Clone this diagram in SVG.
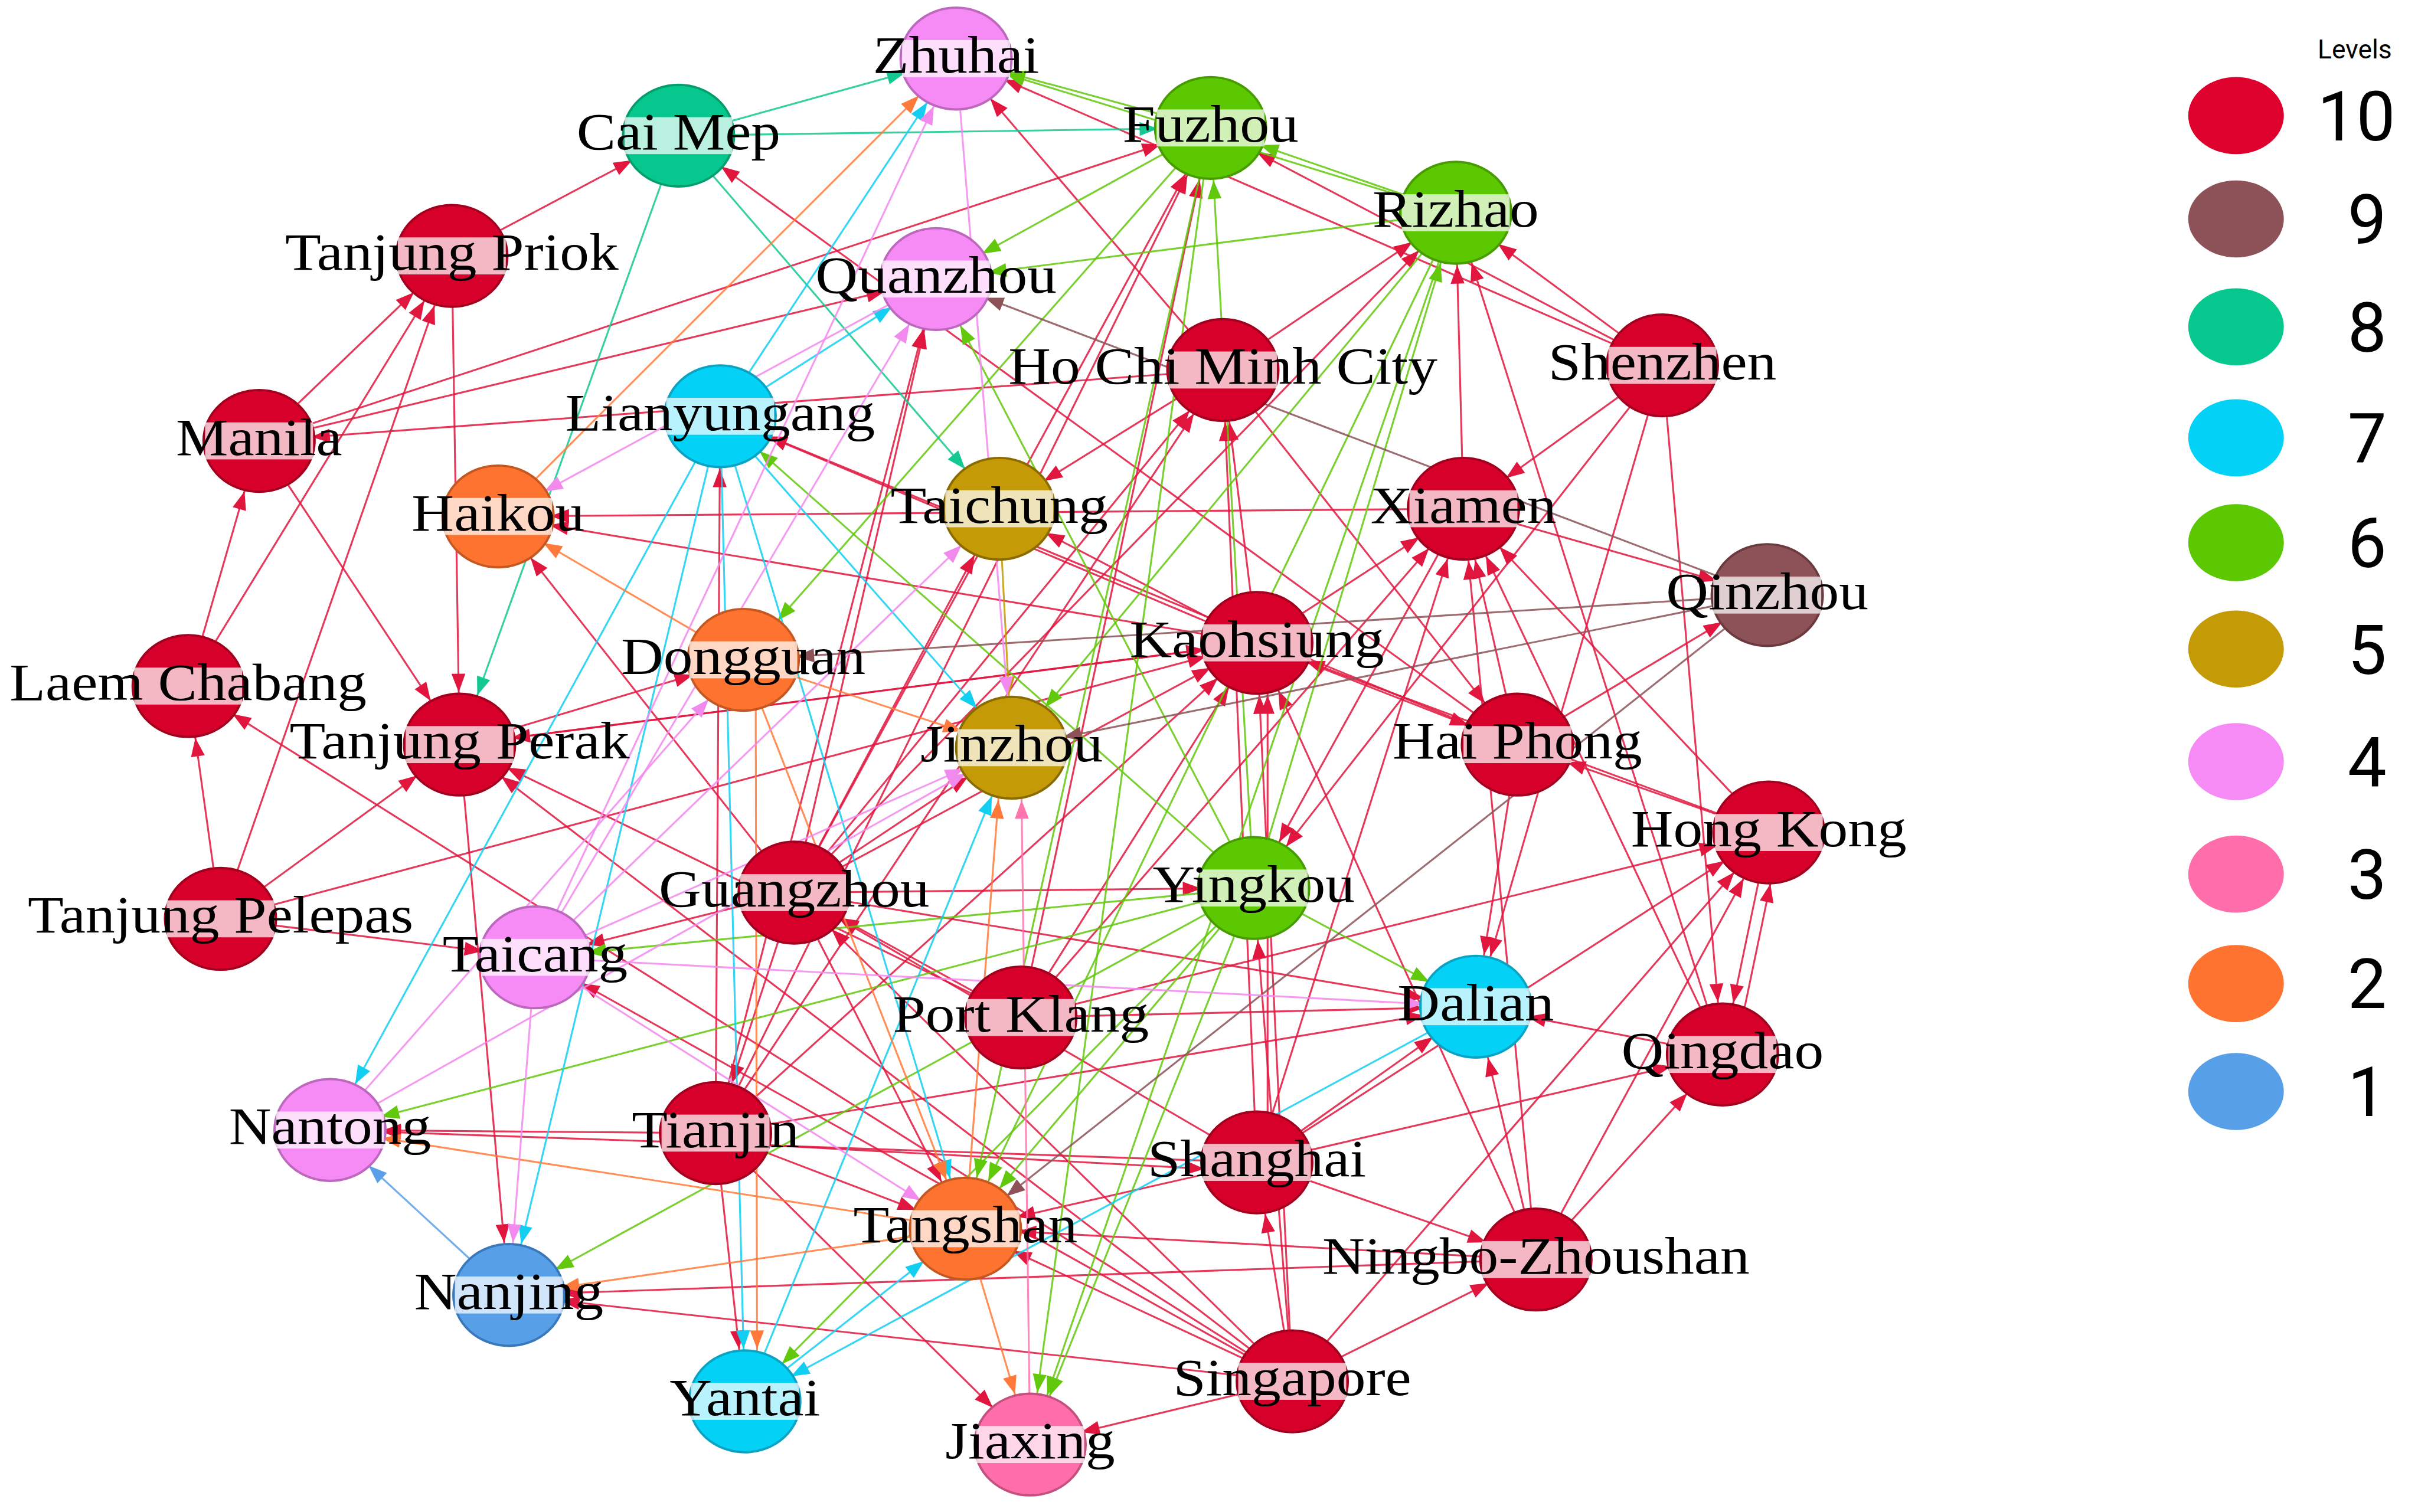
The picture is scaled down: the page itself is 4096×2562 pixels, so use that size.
<svg xmlns="http://www.w3.org/2000/svg" width="4096" height="2562" viewBox="0 0 4096 2562">
<style>
.e line{stroke-width:1.2;stroke-opacity:0.85;fill:none}
.c10 line{stroke:#E0163F}.c9 line{stroke:#8C5257}.c8 line{stroke:#14C892}.c7 line{stroke:#12CFF2}.c6 line{stroke:#62C80C}.c5 line{stroke:#C49A06}.c4 line{stroke:#F28AEE}.c3 line{stroke:#FF74AE}.c2 line{stroke:#FF7A3A}.c1 line{stroke:#5AA0E8}
.n10{fill:#D7002B;stroke:#A3001F}.n9{fill:#8C5257;stroke:#6A3A3F}.n8{fill:#06C88E;stroke:#049E6E}.n7{fill:#03D1F5;stroke:#0AA3C4}.n6{fill:#5CC802;stroke:#479C00}.n5{fill:#C49A06;stroke:#8A6B00}.n4{fill:#F78BF5;stroke:#BC68BC}.n3{fill:#FF6EAB;stroke:#C4507F}.n2{fill:#FF7330;stroke:#C55720}.n1{fill:#57A0E8;stroke:#3A78BC}
.nd ellipse{stroke-width:1.5}
.lb{fill:#fff;fill-opacity:0.72}
.nd text{font-family:"Liberation Serif","Times New Roman",serif;font-size:34px;fill:#000;text-anchor:middle}
.lg{font-family:Roboto,"Liberation Sans",Arial,sans-serif;fill:#000;text-anchor:middle}
</style>
<defs>
<marker id="m10" markerUnits="userSpaceOnUse" orient="auto" overflow="visible" markerWidth="1" markerHeight="1"><path d="M-34,0 L-46,-4.5 L-46,4.5 Z" fill="#E0163F"/></marker>
<marker id="m9" markerUnits="userSpaceOnUse" orient="auto" overflow="visible" markerWidth="1" markerHeight="1"><path d="M-34,0 L-46,-4.5 L-46,4.5 Z" fill="#8C5257"/></marker>
<marker id="m8" markerUnits="userSpaceOnUse" orient="auto" overflow="visible" markerWidth="1" markerHeight="1"><path d="M-34,0 L-46,-4.5 L-46,4.5 Z" fill="#14C892"/></marker>
<marker id="m7" markerUnits="userSpaceOnUse" orient="auto" overflow="visible" markerWidth="1" markerHeight="1"><path d="M-34,0 L-46,-4.5 L-46,4.5 Z" fill="#12CFF2"/></marker>
<marker id="m6" markerUnits="userSpaceOnUse" orient="auto" overflow="visible" markerWidth="1" markerHeight="1"><path d="M-34,0 L-46,-4.5 L-46,4.5 Z" fill="#62C80C"/></marker>
<marker id="m5" markerUnits="userSpaceOnUse" orient="auto" overflow="visible" markerWidth="1" markerHeight="1"><path d="M-34,0 L-46,-4.5 L-46,4.5 Z" fill="#C49A06"/></marker>
<marker id="m4" markerUnits="userSpaceOnUse" orient="auto" overflow="visible" markerWidth="1" markerHeight="1"><path d="M-34,0 L-46,-4.5 L-46,4.5 Z" fill="#F28AEE"/></marker>
<marker id="m3" markerUnits="userSpaceOnUse" orient="auto" overflow="visible" markerWidth="1" markerHeight="1"><path d="M-34,0 L-46,-4.5 L-46,4.5 Z" fill="#FF74AE"/></marker>
<marker id="m2" markerUnits="userSpaceOnUse" orient="auto" overflow="visible" markerWidth="1" markerHeight="1"><path d="M-34,0 L-46,-4.5 L-46,4.5 Z" fill="#FF7A3A"/></marker>
<marker id="m1" markerUnits="userSpaceOnUse" orient="auto" overflow="visible" markerWidth="1" markerHeight="1"><path d="M-34,0 L-46,-4.5 L-46,4.5 Z" fill="#5AA0E8"/></marker>
</defs>
<rect width="4096" height="2562" fill="#fff"/>
<g transform="scale(2.61224)">
<g id="edges" class="e">
<g class="c10" marker-end="url(#m10)">
<line x1="168" y1="286" x2="293" y2="166"/>
<line x1="122" y1="445" x2="293" y2="166"/>
<line x1="143" y1="596" x2="293" y2="166"/>
<line x1="293" y1="166" x2="440" y2="88"/>
<line x1="293" y1="166" x2="298" y2="483"/>
<line x1="168" y1="286" x2="607" y2="181"/>
<line x1="168" y1="286" x2="785" y2="83"/>
<line x1="793" y1="240" x2="168" y2="286"/>
<line x1="168" y1="286" x2="298" y2="483"/>
<line x1="122" y1="445" x2="168" y2="286"/>
<line x1="143" y1="596" x2="122" y2="445"/>
<line x1="838" y1="896" x2="122" y2="445"/>
<line x1="143" y1="596" x2="298" y2="483"/>
<line x1="143" y1="596" x2="347" y2="621"/>
<line x1="143" y1="596" x2="815" y2="417"/>
<line x1="984" y1="483" x2="440" y2="88"/>
<line x1="793" y1="240" x2="620" y2="38"/>
<line x1="1078" y1="237" x2="620" y2="38"/>
<line x1="1078" y1="237" x2="785" y2="83"/>
<line x1="1078" y1="237" x2="944" y2="138"/>
<line x1="1078" y1="237" x2="949" y2="330"/>
<line x1="1078" y1="237" x2="957" y2="653"/>
<line x1="1078" y1="237" x2="1117" y2="684"/>
<line x1="793" y1="240" x2="944" y2="138"/>
<line x1="515" y1="579" x2="944" y2="138"/>
<line x1="949" y1="330" x2="944" y2="138"/>
<line x1="1117" y1="684" x2="944" y2="138"/>
<line x1="815" y1="417" x2="793" y2="240"/>
<line x1="815" y1="754" x2="793" y2="240"/>
<line x1="793" y1="240" x2="648" y2="330"/>
<line x1="515" y1="579" x2="793" y2="240"/>
<line x1="464" y1="735" x2="793" y2="240"/>
<line x1="793" y1="240" x2="984" y2="483"/>
<line x1="515" y1="579" x2="785" y2="83"/>
<line x1="464" y1="735" x2="785" y2="83"/>
<line x1="662" y1="660" x2="785" y2="83"/>
<line x1="515" y1="579" x2="607" y2="181"/>
<line x1="464" y1="735" x2="607" y2="181"/>
<line x1="949" y1="330" x2="323" y2="335"/>
<line x1="996" y1="817" x2="949" y2="330"/>
<line x1="815" y1="754" x2="949" y2="330"/>
<line x1="662" y1="660" x2="949" y2="330"/>
<line x1="1117" y1="684" x2="949" y2="330"/>
<line x1="1147" y1="540" x2="949" y2="330"/>
<line x1="984" y1="483" x2="1146" y2="386"/>
<line x1="949" y1="330" x2="1146" y2="386"/>
<line x1="815" y1="417" x2="648" y2="330"/>
<line x1="949" y1="330" x2="813" y2="576"/>
<line x1="1078" y1="237" x2="813" y2="576"/>
<line x1="815" y1="417" x2="949" y2="330"/>
<line x1="515" y1="579" x2="815" y2="417"/>
<line x1="298" y1="483" x2="815" y2="417"/>
<line x1="464" y1="735" x2="815" y2="417"/>
<line x1="822" y1="754" x2="822" y2="417"/>
<line x1="838" y1="896" x2="815" y2="417"/>
<line x1="996" y1="817" x2="815" y2="417"/>
<line x1="1147" y1="540" x2="815" y2="417"/>
<line x1="1147" y1="540" x2="984" y2="483"/>
<line x1="815" y1="417" x2="298" y2="483"/>
<line x1="298" y1="483" x2="482" y2="428"/>
<line x1="515" y1="579" x2="323" y2="335"/>
<line x1="815" y1="417" x2="323" y2="335"/>
<line x1="464" y1="735" x2="467" y2="270"/>
<line x1="815" y1="417" x2="467" y2="270"/>
<line x1="984" y1="483" x2="467" y2="270"/>
<line x1="515" y1="579" x2="813" y2="576"/>
<line x1="515" y1="579" x2="957" y2="653"/>
<line x1="515" y1="579" x2="347" y2="621"/>
<line x1="515" y1="579" x2="464" y2="735"/>
<line x1="515" y1="579" x2="656" y2="485"/>
<line x1="515" y1="579" x2="648" y2="330"/>
<line x1="515" y1="579" x2="626" y2="797"/>
<line x1="662" y1="660" x2="515" y2="579"/>
<line x1="815" y1="754" x2="515" y2="579"/>
<line x1="662" y1="660" x2="957" y2="653"/>
<line x1="662" y1="660" x2="815" y2="417"/>
<line x1="662" y1="660" x2="1147" y2="540"/>
<line x1="815" y1="754" x2="214" y2="733"/>
<line x1="464" y1="741" x2="815" y2="760"/>
<line x1="464" y1="735" x2="483" y2="909"/>
<line x1="464" y1="735" x2="626" y2="797"/>
<line x1="464" y1="735" x2="668" y2="937"/>
<line x1="298" y1="483" x2="330" y2="840"/>
<line x1="996" y1="817" x2="330" y2="840"/>
<line x1="838" y1="896" x2="330" y2="840"/>
<line x1="815" y1="754" x2="957" y2="653"/>
<line x1="815" y1="754" x2="1117" y2="684"/>
<line x1="815" y1="754" x2="626" y2="797"/>
<line x1="815" y1="754" x2="996" y2="817"/>
<line x1="838" y1="896" x2="815" y2="754"/>
<line x1="838" y1="896" x2="668" y2="937"/>
<line x1="838" y1="896" x2="996" y2="817"/>
<line x1="838" y1="896" x2="515" y2="579"/>
<line x1="838" y1="896" x2="298" y2="483"/>
<line x1="838" y1="896" x2="347" y2="621"/>
<line x1="838" y1="896" x2="1147" y2="540"/>
<line x1="996" y1="817" x2="1117" y2="684"/>
<line x1="996" y1="817" x2="1147" y2="540"/>
<line x1="996" y1="817" x2="957" y2="653"/>
<line x1="1117" y1="684" x2="957" y2="653"/>
<line x1="1147" y1="540" x2="1117" y2="684"/>
<line x1="1125" y1="684" x2="1155" y2="540"/>
<line x1="815" y1="754" x2="1147" y2="540"/>
<line x1="984" y1="483" x2="957" y2="653"/>
<line x1="662" y1="660" x2="298" y2="483"/>
<line x1="838" y1="896" x2="813" y2="576"/>
<line x1="464" y1="735" x2="957" y2="653"/>
<line x1="464" y1="735" x2="214" y2="733"/>
<line x1="984" y1="483" x2="949" y2="330"/>
<line x1="815" y1="417" x2="984" y2="483"/>
<line x1="838" y1="896" x2="626" y2="797"/>
<line x1="996" y1="817" x2="626" y2="797"/>
</g>
<g class="c6" marker-end="url(#m6)">
<line x1="785" y1="83" x2="620" y2="38"/>
<line x1="944" y1="138" x2="620" y2="38"/>
<line x1="944" y1="138" x2="785" y2="83"/>
<line x1="785" y1="83" x2="607" y2="181"/>
<line x1="785" y1="83" x2="482" y2="428"/>
<line x1="785" y1="83" x2="668" y2="937"/>
<line x1="785" y1="83" x2="626" y2="797"/>
<line x1="813" y1="576" x2="785" y2="83"/>
<line x1="813" y1="576" x2="944" y2="138"/>
<line x1="813" y1="576" x2="607" y2="181"/>
<line x1="813" y1="576" x2="957" y2="653"/>
<line x1="813" y1="576" x2="347" y2="621"/>
<line x1="813" y1="576" x2="214" y2="733"/>
<line x1="813" y1="576" x2="668" y2="937"/>
<line x1="813" y1="576" x2="626" y2="797"/>
<line x1="813" y1="576" x2="483" y2="909"/>
<line x1="813" y1="576" x2="330" y2="840"/>
<line x1="813" y1="576" x2="467" y2="270"/>
<line x1="944" y1="138" x2="656" y2="485"/>
<line x1="944" y1="138" x2="668" y2="937"/>
<line x1="944" y1="138" x2="607" y2="181"/>
<line x1="944" y1="138" x2="626" y2="797"/>
</g>
<g class="c8" marker-end="url(#m8)">
<line x1="440" y1="88" x2="620" y2="38"/>
<line x1="440" y1="88" x2="785" y2="83"/>
<line x1="440" y1="88" x2="648" y2="330"/>
<line x1="440" y1="88" x2="298" y2="483"/>
</g>
<g class="c7" marker-end="url(#m7)">
<line x1="467" y1="270" x2="620" y2="38"/>
<line x1="467" y1="270" x2="607" y2="181"/>
<line x1="467" y1="270" x2="214" y2="733"/>
<line x1="467" y1="270" x2="330" y2="840"/>
<line x1="467" y1="270" x2="483" y2="909"/>
<line x1="467" y1="270" x2="626" y2="797"/>
<line x1="467" y1="270" x2="656" y2="485"/>
<line x1="957" y1="653" x2="483" y2="909"/>
<line x1="483" y1="909" x2="626" y2="797"/>
<line x1="483" y1="909" x2="656" y2="485"/>
</g>
<g class="c9" marker-end="url(#m9)">
<line x1="1146" y1="386" x2="607" y2="181"/>
<line x1="1146" y1="386" x2="482" y2="428"/>
<line x1="1146" y1="386" x2="656" y2="485"/>
<line x1="1146" y1="386" x2="626" y2="797"/>
</g>
<g class="c5" marker-end="url(#m5)">
<line x1="648" y1="330" x2="656" y2="485"/>
</g>
<g class="c2" marker-end="url(#m2)">
<line x1="323" y1="335" x2="620" y2="38"/>
<line x1="482" y1="428" x2="323" y2="335"/>
<line x1="482" y1="428" x2="656" y2="485"/>
<line x1="490" y1="428" x2="491" y2="909"/>
<line x1="482" y1="428" x2="626" y2="797"/>
<line x1="626" y1="797" x2="214" y2="733"/>
<line x1="626" y1="797" x2="330" y2="840"/>
<line x1="626" y1="797" x2="650" y2="485"/>
<line x1="626" y1="797" x2="668" y2="937"/>
</g>
<g class="c4" marker-end="url(#m4)">
<line x1="620" y1="38" x2="656" y2="485"/>
<line x1="347" y1="621" x2="620" y2="38"/>
<line x1="347" y1="621" x2="607" y2="181"/>
<line x1="347" y1="621" x2="330" y2="840"/>
<line x1="347" y1="621" x2="656" y2="485"/>
<line x1="347" y1="621" x2="957" y2="653"/>
<line x1="347" y1="621" x2="626" y2="797"/>
<line x1="214" y1="733" x2="656" y2="485"/>
<line x1="607" y1="181" x2="323" y2="335"/>
<line x1="347" y1="621" x2="648" y2="330"/>
<line x1="214" y1="733" x2="482" y2="428"/>
</g>
<g class="c3" marker-end="url(#m3)">
<line x1="668" y1="937" x2="662" y2="485"/>
</g>
<g class="c1" marker-end="url(#m1)">
<line x1="330" y1="840" x2="214" y2="733"/>
</g>
</g>
<g id="nodes">
<g id="n-zhuhai" class="nd"><ellipse class="n4" cx="620" cy="38" rx="36" ry="33"/><rect class="lb" x="585" y="26" width="70" height="24"/><text transform="translate(620,47) scale(1.12,1)">Zhuhai</text></g>
<g id="n-caimep" class="nd"><ellipse class="n8" cx="440" cy="88" rx="36" ry="33"/><rect class="lb" x="405" y="76" width="70" height="24"/><text transform="translate(440,97) scale(1.12,1)">Cai Mep</text></g>
<g id="n-fuzhou" class="nd"><ellipse class="n6" cx="785" cy="83" rx="36" ry="33"/><rect class="lb" x="750" y="71" width="70" height="24"/><text transform="translate(785,92) scale(1.12,1)">Fuzhou</text></g>
<g id="n-rizhao" class="nd"><ellipse class="n6" cx="944" cy="138" rx="36" ry="33"/><rect class="lb" x="909" y="126" width="70" height="24"/><text transform="translate(944,147) scale(1.12,1)">Rizhao</text></g>
<g id="n-tanjungpriok" class="nd"><ellipse class="n10" cx="293" cy="166" rx="36" ry="33"/><rect class="lb" x="258" y="154" width="70" height="24"/><text transform="translate(293,175) scale(1.12,1)">Tanjung Priok</text></g>
<g id="n-quanzhou" class="nd"><ellipse class="n4" cx="607" cy="181" rx="36" ry="33"/><rect class="lb" x="572" y="169" width="70" height="24"/><text transform="translate(607,190) scale(1.12,1)">Quanzhou</text></g>
<g id="n-hochiminhcity" class="nd"><ellipse class="n10" cx="793" cy="240" rx="36" ry="33"/><rect class="lb" x="758" y="228" width="70" height="24"/><text transform="translate(793,249) scale(1.12,1)">Ho Chi Minh City</text></g>
<g id="n-shenzhen" class="nd"><ellipse class="n10" cx="1078" cy="237" rx="36" ry="33"/><rect class="lb" x="1043" y="225" width="70" height="24"/><text transform="translate(1078,246) scale(1.12,1)">Shenzhen</text></g>
<g id="n-manila" class="nd"><ellipse class="n10" cx="168" cy="286" rx="36" ry="33"/><rect class="lb" x="133" y="274" width="70" height="24"/><text transform="translate(168,295) scale(1.12,1)">Manila</text></g>
<g id="n-lianyungang" class="nd"><ellipse class="n7" cx="467" cy="270" rx="36" ry="33"/><rect class="lb" x="432" y="258" width="70" height="24"/><text transform="translate(467,279) scale(1.12,1)">Lianyungang</text></g>
<g id="n-haikou" class="nd"><ellipse class="n2" cx="323" cy="335" rx="36" ry="33"/><rect class="lb" x="288" y="323" width="70" height="24"/><text transform="translate(323,344) scale(1.12,1)">Haikou</text></g>
<g id="n-taichung" class="nd"><ellipse class="n5" cx="648" cy="330" rx="36" ry="33"/><rect class="lb" x="613" y="318" width="70" height="24"/><text transform="translate(648,339) scale(1.12,1)">Taichung</text></g>
<g id="n-xiamen" class="nd"><ellipse class="n10" cx="949" cy="330" rx="36" ry="33"/><rect class="lb" x="914" y="318" width="70" height="24"/><text transform="translate(949,339) scale(1.12,1)">Xiamen</text></g>
<g id="n-qinzhou" class="nd"><ellipse class="n9" cx="1146" cy="386" rx="36" ry="33"/><rect class="lb" x="1111" y="374" width="70" height="24"/><text transform="translate(1146,395) scale(1.12,1)">Qinzhou</text></g>
<g id="n-laemchabang" class="nd"><ellipse class="n10" cx="122" cy="445" rx="36" ry="33"/><rect class="lb" x="87" y="433" width="70" height="24"/><text transform="translate(122,454) scale(1.12,1)">Laem Chabang</text></g>
<g id="n-dongguan" class="nd"><ellipse class="n2" cx="482" cy="428" rx="36" ry="33"/><rect class="lb" x="447" y="416" width="70" height="24"/><text transform="translate(482,437) scale(1.12,1)">Dongguan</text></g>
<g id="n-kaohsiung" class="nd"><ellipse class="n10" cx="815" cy="417" rx="36" ry="33"/><rect class="lb" x="780" y="405" width="70" height="24"/><text transform="translate(815,426) scale(1.12,1)">Kaohsiung</text></g>
<g id="n-tanjungperak" class="nd"><ellipse class="n10" cx="298" cy="483" rx="36" ry="33"/><rect class="lb" x="263" y="471" width="70" height="24"/><text transform="translate(298,492) scale(1.12,1)">Tanjung Perak</text></g>
<g id="n-jinzhou" class="nd"><ellipse class="n5" cx="656" cy="485" rx="36" ry="33"/><rect class="lb" x="621" y="473" width="70" height="24"/><text transform="translate(656,494) scale(1.12,1)">Jinzhou</text></g>
<g id="n-haiphong" class="nd"><ellipse class="n10" cx="984" cy="483" rx="36" ry="33"/><rect class="lb" x="949" y="471" width="70" height="24"/><text transform="translate(984,492) scale(1.12,1)">Hai Phong</text></g>
<g id="n-hongkong" class="nd"><ellipse class="n10" cx="1147" cy="540" rx="36" ry="33"/><rect class="lb" x="1112" y="528" width="70" height="24"/><text transform="translate(1147,549) scale(1.12,1)">Hong Kong</text></g>
<g id="n-tanjungpelepas" class="nd"><ellipse class="n10" cx="143" cy="596" rx="36" ry="33"/><rect class="lb" x="108" y="584" width="70" height="24"/><text transform="translate(143,605) scale(1.12,1)">Tanjung Pelepas</text></g>
<g id="n-guangzhou" class="nd"><ellipse class="n10" cx="515" cy="579" rx="36" ry="33"/><rect class="lb" x="480" y="567" width="70" height="24"/><text transform="translate(515,588) scale(1.12,1)">Guangzhou</text></g>
<g id="n-yingkou" class="nd"><ellipse class="n6" cx="813" cy="576" rx="36" ry="33"/><rect class="lb" x="778" y="564" width="70" height="24"/><text transform="translate(813,585) scale(1.12,1)">Yingkou</text></g>
<g id="n-taicang" class="nd"><ellipse class="n4" cx="347" cy="621" rx="36" ry="33"/><rect class="lb" x="312" y="609" width="70" height="24"/><text transform="translate(347,630) scale(1.12,1)">Taicang</text></g>
<g id="n-portklang" class="nd"><ellipse class="n10" cx="662" cy="660" rx="36" ry="33"/><rect class="lb" x="627" y="648" width="70" height="24"/><text transform="translate(662,669) scale(1.12,1)">Port Klang</text></g>
<g id="n-dalian" class="nd"><ellipse class="n7" cx="957" cy="653" rx="36" ry="33"/><rect class="lb" x="922" y="641" width="70" height="24"/><text transform="translate(957,662) scale(1.12,1)">Dalian</text></g>
<g id="n-qingdao" class="nd"><ellipse class="n10" cx="1117" cy="684" rx="36" ry="33"/><rect class="lb" x="1082" y="672" width="70" height="24"/><text transform="translate(1117,693) scale(1.12,1)">Qingdao</text></g>
<g id="n-nantong" class="nd"><ellipse class="n4" cx="214" cy="733" rx="36" ry="33"/><rect class="lb" x="179" y="721" width="70" height="24"/><text transform="translate(214,742) scale(1.12,1)">Nantong</text></g>
<g id="n-tianjin" class="nd"><ellipse class="n10" cx="464" cy="735" rx="36" ry="33"/><rect class="lb" x="429" y="723" width="70" height="24"/><text transform="translate(464,744) scale(1.12,1)">Tianjin</text></g>
<g id="n-shanghai" class="nd"><ellipse class="n10" cx="815" cy="754" rx="36" ry="33"/><rect class="lb" x="780" y="742" width="70" height="24"/><text transform="translate(815,763) scale(1.12,1)">Shanghai</text></g>
<g id="n-tangshan" class="nd"><ellipse class="n2" cx="626" cy="797" rx="36" ry="33"/><rect class="lb" x="591" y="785" width="70" height="24"/><text transform="translate(626,806) scale(1.12,1)">Tangshan</text></g>
<g id="n-ningbozhoushan" class="nd"><ellipse class="n10" cx="996" cy="817" rx="36" ry="33"/><rect class="lb" x="961" y="805" width="70" height="24"/><text transform="translate(996,826) scale(1.12,1)">Ningbo-Zhoushan</text></g>
<g id="n-nanjing" class="nd"><ellipse class="n1" cx="330" cy="840" rx="36" ry="33"/><rect class="lb" x="295" y="828" width="70" height="24"/><text transform="translate(330,849) scale(1.12,1)">Nanjing</text></g>
<g id="n-singapore" class="nd"><ellipse class="n10" cx="838" cy="896" rx="36" ry="33"/><rect class="lb" x="803" y="884" width="70" height="24"/><text transform="translate(838,905) scale(1.12,1)">Singapore</text></g>
<g id="n-yantai" class="nd"><ellipse class="n7" cx="483" cy="909" rx="36" ry="33"/><rect class="lb" x="448" y="897" width="70" height="24"/><text transform="translate(483,918) scale(1.12,1)">Yantai</text></g>
<g id="n-jiaxing" class="nd"><ellipse class="n3" cx="668" cy="937" rx="36" ry="33"/><rect class="lb" x="633" y="925" width="70" height="24"/><text transform="translate(668,946) scale(1.12,1)">Jiaxing</text></g>
</g>
<g id="legend">
<text class="lg" x="1527" y="38" font-size="17">Levels</text>
<ellipse cx="1450" cy="75" rx="31" ry="25" fill="#DE002D"/><text class="lg" x="1528" y="91" font-size="45">10</text>
<ellipse cx="1450" cy="142" rx="31" ry="25" fill="#8C5257"/><text class="lg" x="1535" y="158" font-size="45">9</text>
<ellipse cx="1450" cy="212" rx="31" ry="25" fill="#06C88E"/><text class="lg" x="1535" y="228" font-size="45">8</text>
<ellipse cx="1450" cy="284" rx="31" ry="25" fill="#03D1F5"/><text class="lg" x="1535" y="300" font-size="45">7</text>
<ellipse cx="1450" cy="352" rx="31" ry="25" fill="#5CC802"/><text class="lg" x="1535" y="368" font-size="45">6</text>
<ellipse cx="1450" cy="421" rx="31" ry="25" fill="#C49A06"/><text class="lg" x="1535" y="437" font-size="45">5</text>
<ellipse cx="1450" cy="494" rx="31" ry="25" fill="#F78BF5"/><text class="lg" x="1535" y="510" font-size="45">4</text>
<ellipse cx="1450" cy="567" rx="31" ry="25" fill="#FF6EAB"/><text class="lg" x="1535" y="583" font-size="45">3</text>
<ellipse cx="1450" cy="638" rx="31" ry="25" fill="#FF7330"/><text class="lg" x="1535" y="654" font-size="45">2</text>
<ellipse cx="1450" cy="708" rx="31" ry="25" fill="#57A0E8"/><text class="lg" x="1535" y="724" font-size="45">1</text>
</g>
</g>
</svg>
